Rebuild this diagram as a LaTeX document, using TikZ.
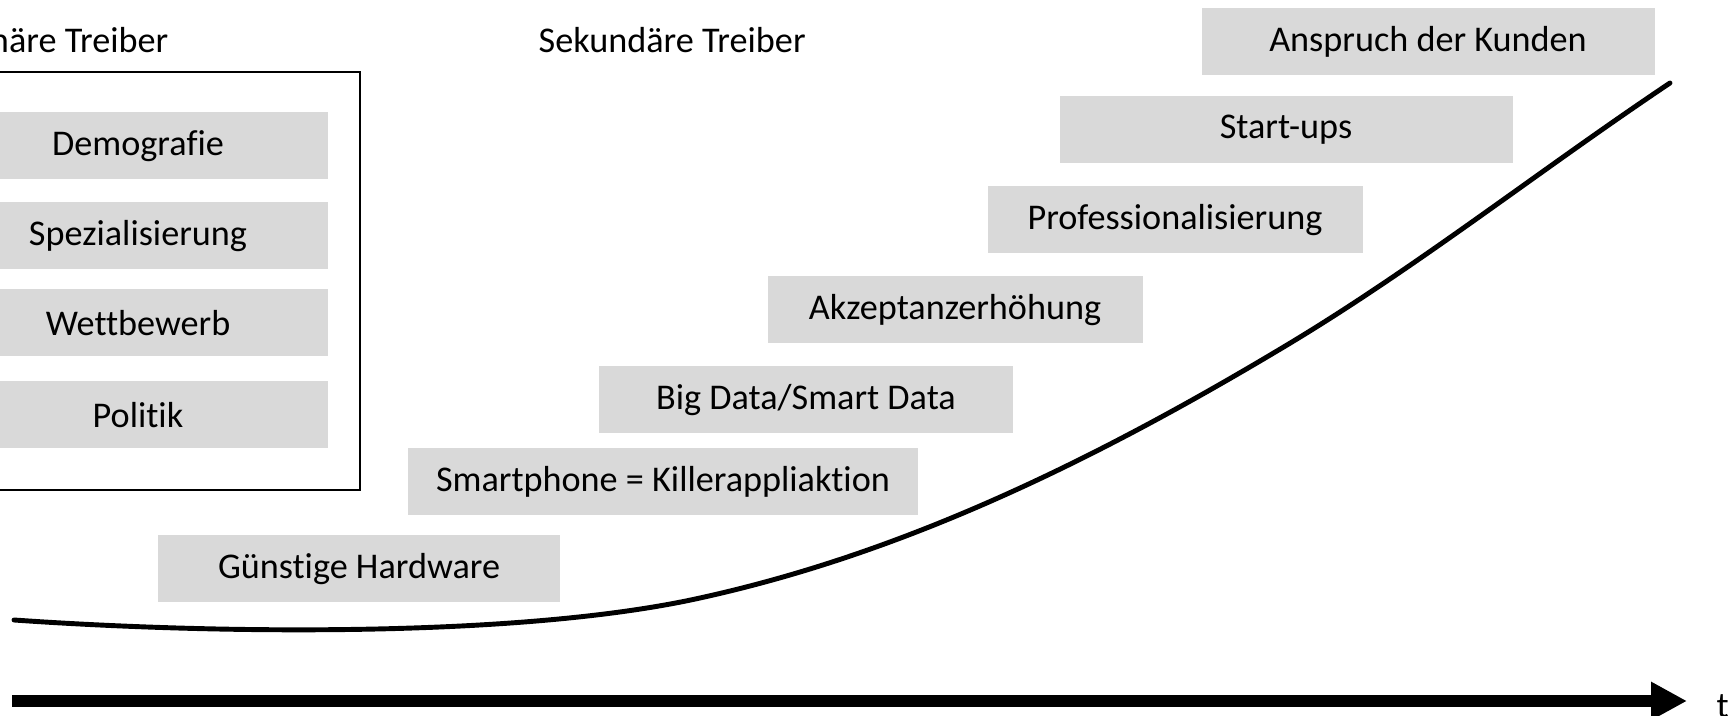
\documentclass[tikz,border=0pt]{standalone}
\usepackage{fontspec}
\setmainfont[Ligatures=NoCommon]{Carlito}
\usepackage{xcolor}
\usetikzlibrary{arrows.meta}

\definecolor{drivergray}{HTML}{D9D9D9}

\begin{document}
\begin{tikzpicture}[
    x=0.1mm, y=-0.1mm,
    font=\fontsize{10.3}{12}\selectfont,
    driver/.style={rectangle, fill=drivergray, minimum height=6.7mm, inner sep=0pt},
    heading/.style={inner sep=0pt},
    frame/.style={draw, line width=0.6pt},
    growth/.style={line width=1.4pt, line cap=round},
    timeaxis/.style={line width=1.2mm, -{Triangle[length=3.6mm, width=3.6mm]}}
]
\useasboundingbox (0,0) rectangle (1735,716);
\clip (0,0) rectangle (1735,716);

% Headings
\node[heading, anchor=base east] (primary) at (169,53) {Primäre Treiber};
\node[heading, anchor=base west] (secondary) at (538,53) {Sekundäre Treiber};

% Primary drivers
\draw[frame] (-100,72) rectangle (360,490);
\node[driver, minimum width=38mm] (demo) at (138,146) {Demografie};
\node[driver, minimum width=38mm] (spez) at (138,236) {Spezialisierung};
\node[driver, minimum width=38mm] (wett) at (138,323) {Wettbewerb};
\node[driver, minimum width=38mm] (poli) at (138,415) {Politik};

% Secondary drivers
\node[driver, minimum width=40.2mm] (hardware) at (359,569) {Günstige Hardware};
\node[driver, minimum width=51mm] (phone) at (663,482) {Smartphone = Killerappliaktion};
\node[driver, minimum width=41.4mm] (data) at (806,400) {Big Data/Smart Data};
\node[driver, minimum width=37.5mm] (akzept) at (955,310) {Akzeptanzerhöhung};
\node[driver, minimum width=37.5mm] (prof) at (1175,220) {Professionalisierung};
\node[driver, minimum width=45.3mm] (startups) at (1286,130) {Start-ups};
\node[driver, minimum width=45.3mm] (kunden) at (1428,42) {Anspruch der Kunden};

% Growth curve
\draw[growth] (14,620) .. controls (214,634) and (520,638) .. (700,598)
    .. controls (900,554) and (1087,465) .. (1287,345)
    .. controls (1417,267) and (1540,170) .. (1670,83);

% Time axis
\coordinate (axisstart) at (12,701);
\coordinate (axisend) at (1687,701);
\draw[timeaxis] (axisstart) -- (axisend);
\node[heading, anchor=base west] (time) at (1716,718) {t};

\end{tikzpicture}
\end{document}
